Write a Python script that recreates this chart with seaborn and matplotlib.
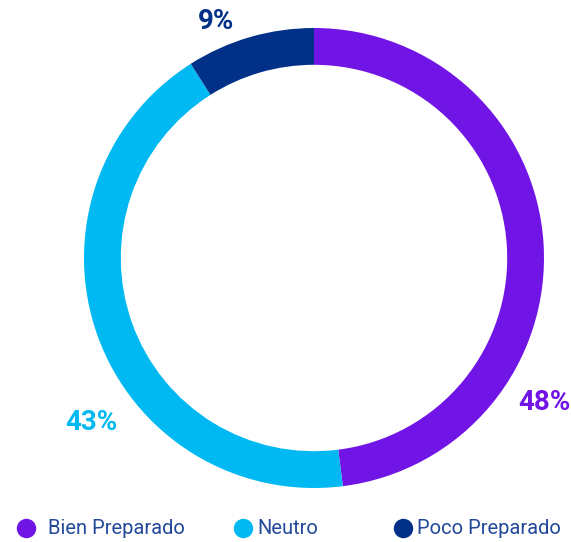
import matplotlib
matplotlib.use("Agg")
import matplotlib.pyplot as plt
from matplotlib.lines import Line2D
import seaborn as sns

categories = ["Bien Preparado", "Neutro", "Poco Preparado"]
values = [48, 43, 9]
labels = ["48%", "43%", "9%"]
colors = ["#7114E6", "#00B9F2", "#003087"]

sns.set_theme(style="white")
plt.rcParams['font.family'] = ['Roboto', 'DejaVu Sans']

W, H = 571, 542
fig = plt.figure(figsize=(W / 100, H / 100), dpi=100)
fig.patch.set_facecolor("white")

# axes: square of 460 px, left 84, bottom 54
ax = fig.add_axes([84 / W, 54 / H, 460 / W, 460 / H])
wedges, _ = ax.pie(values, colors=colors, startangle=90, counterclock=False,
                   radius=1.0, wedgeprops=dict(width=0.16, linewidth=0))
ax.set_xlim(-1, 1)
ax.set_ylim(-1, 1)
ax.set_aspect("equal")
ax.axis("off")

label_pos = [(1.004, -0.63), (-0.97, -0.717), (-0.426, 1.03)]
for (x, y), t, c in zip(label_pos, labels, colors):
    ax.text(x, y, t, color=c, fontsize=20, fontweight="bold",
            ha="center", va="center", clip_on=False)

# legend
marker_x = [26, 243, 403]
text_x = [48, 257, 417]
ly = 528
for mx, tx, cat, c in zip(marker_x, text_x, categories, colors):
    fig.add_artist(Line2D([mx / W], [1 - ly / H], marker="o", markersize=14,
                          color=c, markeredgewidth=0, linestyle="none",
                          transform=fig.transFigure))
    fig.text(tx / W, 1 - ly / H, cat, color="#22499A", fontsize=14.5,
             ha="left", va="center")

fig.savefig("out.png", dpi=100, facecolor="white")
